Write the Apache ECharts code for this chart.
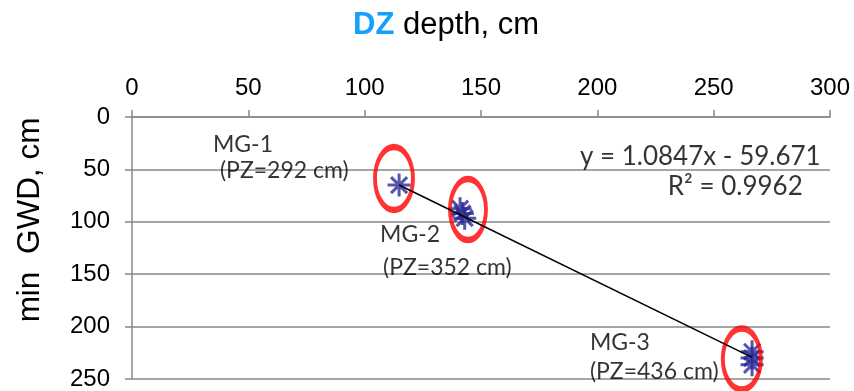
<!DOCTYPE html>
<html>
<head>
<meta charset="utf-8">
<script src="https://cdn.jsdelivr.net/npm/echarts@6/dist/echarts.min.js"></script>
<style>html,body{margin:0;padding:0;background:#fff}#c{width:854px;height:391px}</style>
</head>
<body>
<div id="c"></div>
<script>
// ---- data ----
const xTicks = [0, 50, 100, 150, 200, 250, 300];
const yTicks = [0, 50, 100, 150, 200, 250];
// DZ depth (cm), min GWD (cm) measurements
const mg1Points = [[114.8, 65.0]];
const mg2Points = [[141.0, 87.5], [142.0, 92.0], [143.0, 96.5]];
const mg3Points = [[266.5, 224.0], [266.5, 230.0], [266.5, 236.5]];
// linear trendline endpoints: y = 1.0847x - 59.671
const trendLine = [[114.8, 64.9], [266.5, 229.4]];
// ellipse annotation centres
const ellipseCentres = [[112.6, 58.7], [144.4, 88.3], [262.1, 230.9]];
// text annotations [x, y, text]
const annotations = [
  [34.8, 26.7, 'MG-1'],
  [37.8, 51.5, '(PZ=292 cm)'],
  [106.6, 112.1, 'MG-2'],
  [107.9, 143.5, '(PZ=352 cm)'],
  [196.8, 215.6, 'MG-3'],
  [196.8, 243.3, '(PZ=436 cm)']
];
const equationLabels = [
  [192.5, 38.2, 'y = 1.0847x - 59.671'],
  [230.3, 66.8, 'R² = 0.9962']
];

// ---- chart ----
const ellipseSizes = [[38, 63], [36, 61], [38, 61]];
const gray = '#888888';
const starPath = 'path://M0,10 L20,10 M10,0 L10,20 M3,3 L17,17 M17,3 L3,17';
const allPoints = mg1Points.concat(mg2Points, mg3Points);

const chart = echarts.init(document.getElementById('c'), null, {renderer: 'canvas'});
chart.setOption({
  animation: false,
  title: {
    text: '{a|DZ} {b|depth, cm}',
    left: 348, top: 5,
    textStyle: {
      fontSize: 31, fontFamily: 'Liberation Sans', color: '#000', fontWeight: 'normal',
      rich: {
        a: {fontSize: 31, fontFamily: 'Liberation Sans', fontWeight: 'bold', color: '#14a0ff'},
        b: {fontSize: 31, fontFamily: 'Liberation Sans', fontWeight: 'normal', color: '#000'}
      }
    }
  },
  graphic: [{
    type: 'text', x: 30, y: 220, rotation: Math.PI / 2,
    style: {text: 'min  GWD, cm', font: '31.5px "Liberation Sans"', fill: '#000', align: 'center', verticalAlign: 'middle'}
  }],
  grid: {left: 132, right: 24, top: 117, bottom: 12, containLabel: false},
  xAxis: {
    type: 'value', position: 'top', min: xTicks[0], max: xTicks[xTicks.length - 1], interval: 50,
    axisLine: {show: true, lineStyle: {color: gray, width: 1.5}},
    axisTick: {show: true, length: 7, lineStyle: {color: gray, width: 1.5}},
    axisLabel: {fontSize: 24, fontFamily: 'Liberation Sans', color: '#000', margin: 17},
    splitLine: {show: false}
  },
  yAxis: {
    type: 'value', inverse: true, min: yTicks[0], max: yTicks[yTicks.length - 1], interval: 50,
    axisLine: {show: true, lineStyle: {color: gray, width: 1.5}},
    axisTick: {show: true, length: 7, lineStyle: {color: gray, width: 1.5}},
    axisLabel: {fontSize: 24, fontFamily: 'Liberation Sans', color: '#000', margin: 22},
    splitLine: {show: true, lineStyle: {color: gray, width: 1.5}}
  },
  series: [
    {
      type: 'line', data: trendLine, symbol: 'none', silent: true,
      lineStyle: {color: '#000', width: 1.5}
    },
    {
      type: 'scatter', data: allPoints, symbol: starPath, symbolSize: 23, silent: true,
      itemStyle: {color: 'rgba(0,0,0,0)', borderColor: '#2a2a96', borderWidth: 3}
    },
    {
      type: 'scatter', silent: true, clip: false, symbol: 'circle',
      data: ellipseCentres.map((c, i) => ({value: c, symbolSize: ellipseSizes[i]})),
      itemStyle: {color: 'rgba(0,0,0,0)', borderColor: '#ff0000', borderWidth: 5}
    },
    {
      type: 'scatter', silent: true, clip: false, symbolSize: 0,
      data: annotations,
      label: {show: true, position: 'right', distance: 0, formatter: p => p.value[2],
        fontFamily: 'Lato', fontSize: 23, color: '#000'}
    },
    {
      type: 'scatter', silent: true, clip: false, symbolSize: 0,
      data: equationLabels,
      label: {show: true, position: 'right', distance: 0, formatter: p => p.value[2],
        fontFamily: 'Lato', fontSize: 26, color: '#000'}
    }
  ]
});
</script>
</body>
</html>
